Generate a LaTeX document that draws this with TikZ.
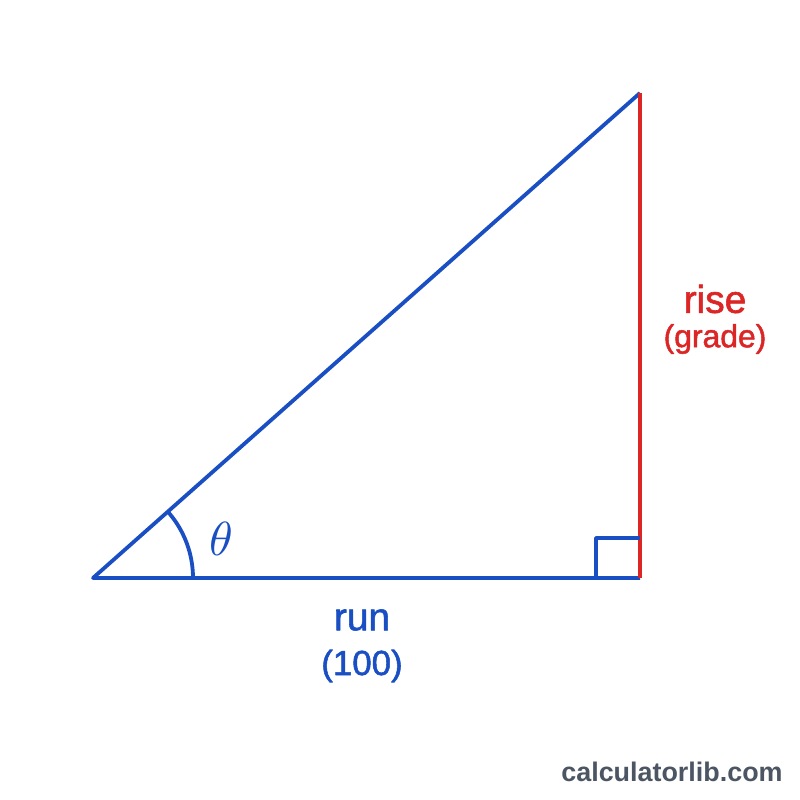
\documentclass[tikz,border=0pt]{standalone}
\usepackage{fontspec}
\setmainfont{Liberation Sans}
\newfontfamily\medfont[FakeBold=1.5]{Liberation Sans}
\usetikzlibrary{positioning}
\definecolor{runblue}{HTML}{1A4FC4}
\definecolor{risered}{HTML}{DC2626}
\definecolor{sitegray}{HTML}{4B5563}

\begin{document}
\begin{tikzpicture}[x=1bp,y=1bp,line width=3.8bp,line join=round,on grid,
		lbl/.style={font=\medfont\fontsize{39}{41}\selectfont},
		sublbl/.style={font=\medfont\fontsize{32}{34}\selectfont}]
		\fill[white] (0,0) rectangle (800,800);
		\coordinate (A) at (93,222);
		\coordinate (B) at (640,222);
		\coordinate (C) at (640,707);
		\coordinate (sq) at (596,262);
		\draw[runblue] (C) -- (A) -- (B);
		\draw[risered] (B) -- (C);
		\draw[runblue] (sq |- B) -- (sq) -- (sq -| B);
		\draw[runblue] (193,222) arc[start angle=0,end angle=41.6,radius=100];
		\node[runblue,scale=4.8] (theta) at (221,261) {$\theta$};
		\node[lbl,risered] (rise) at (715,501) {rise};
		\node[sublbl,risered] (grade) [below=40bp of rise] {(grade)};
		\node[lbl,runblue] (run) at (362,180) {run};
		\node[sublbl,runblue,font=\medfont\fontsize{35}{37}\selectfont] (hundred) [below=46bp of run] {(100)};
		\node[sitegray,font=\fontsize{27}{29}\selectfont\bfseries] (site) at (672,28) {calculatorlib.com};
	\end{tikzpicture}
\end{document}
